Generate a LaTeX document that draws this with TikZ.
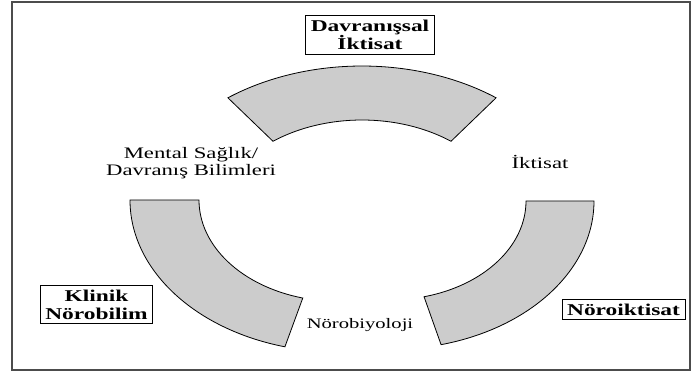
\documentclass[tikz,border=0pt]{standalone}
\usepackage{fontspec}
\setmainfont{Liberation Serif}[FakeStretch=1.42]
\usetikzlibrary{calc}
\begin{document}
\begin{tikzpicture}[x=1pt,y=-1pt,
  blockarc/.style={draw=black, line width=0.8pt, fill=black!20, line join=miter},
  boxlabel/.style={draw=black, line width=0.8pt, fill=white, align=center,
    inner xsep=5pt, inner ysep=4.5pt,
    font=\bfseries\fontsize{16.5}{18}\selectfont},
  plainlabel/.style={align=center, inner sep=0pt, font=\fontsize{16}{16.5}\selectfont}]
\useasboundingbox (0,0) rectangle (696,374);
\draw[draw=black!70, line width=1.4pt] (12,2) rectangle (690,370);
% top block arc
\coordinate (ct) at (362,229);
\draw[blockarc] ($(ct)+(233.6:226 and 163)$)
  arc[start angle=233.6, end angle=306.4, x radius=226, y radius=163]
  -- ($(ct)+(306.4:150 and 109)$)
  arc[start angle=306.4, end angle=233.6, x radius=150, y radius=109] -- cycle;
% left block arc
\coordinate (cl) at (339,200);
\draw[blockarc] ($(cl)+(180:209 and 152)$)
  arc[start angle=180, end angle=105, x radius=209, y radius=152]
  -- ($(cl)+(105:140 and 101.5)$)
  arc[start angle=105, end angle=180, x radius=140, y radius=101.5] -- cycle;
% right block arc
\coordinate (cr) at (390,201);
\draw[blockarc] ($(cr)+(0:204 and 148.4)$)
  arc[start angle=0, end angle=75.5, x radius=204, y radius=148.4]
  -- ($(cr)+(75.5:136 and 98.9)$)
  arc[start angle=75.5, end angle=0, x radius=136, y radius=98.9] -- cycle;
% labels
\node[boxlabel] (davr) at (370,35) {Davranışsal\\İktisat};
\node[boxlabel] (klin) at (96.5,304.5) {Klinik\\Nörobilim};
\node[boxlabel] (noro) at (623.5,309.5) {Nöroiktisat};
\node[plainlabel] (ment) at (191,163) {Mental Sağlık/\\Davranış Bilimleri};
\node[plainlabel] (ikt) at (540,162) {İktisat};
\node[plainlabel, font=\fontsize{14.5}{16}\selectfont] (nbio) at (360,325) {Nörobiyoloji};
\end{tikzpicture}
\end{document}
